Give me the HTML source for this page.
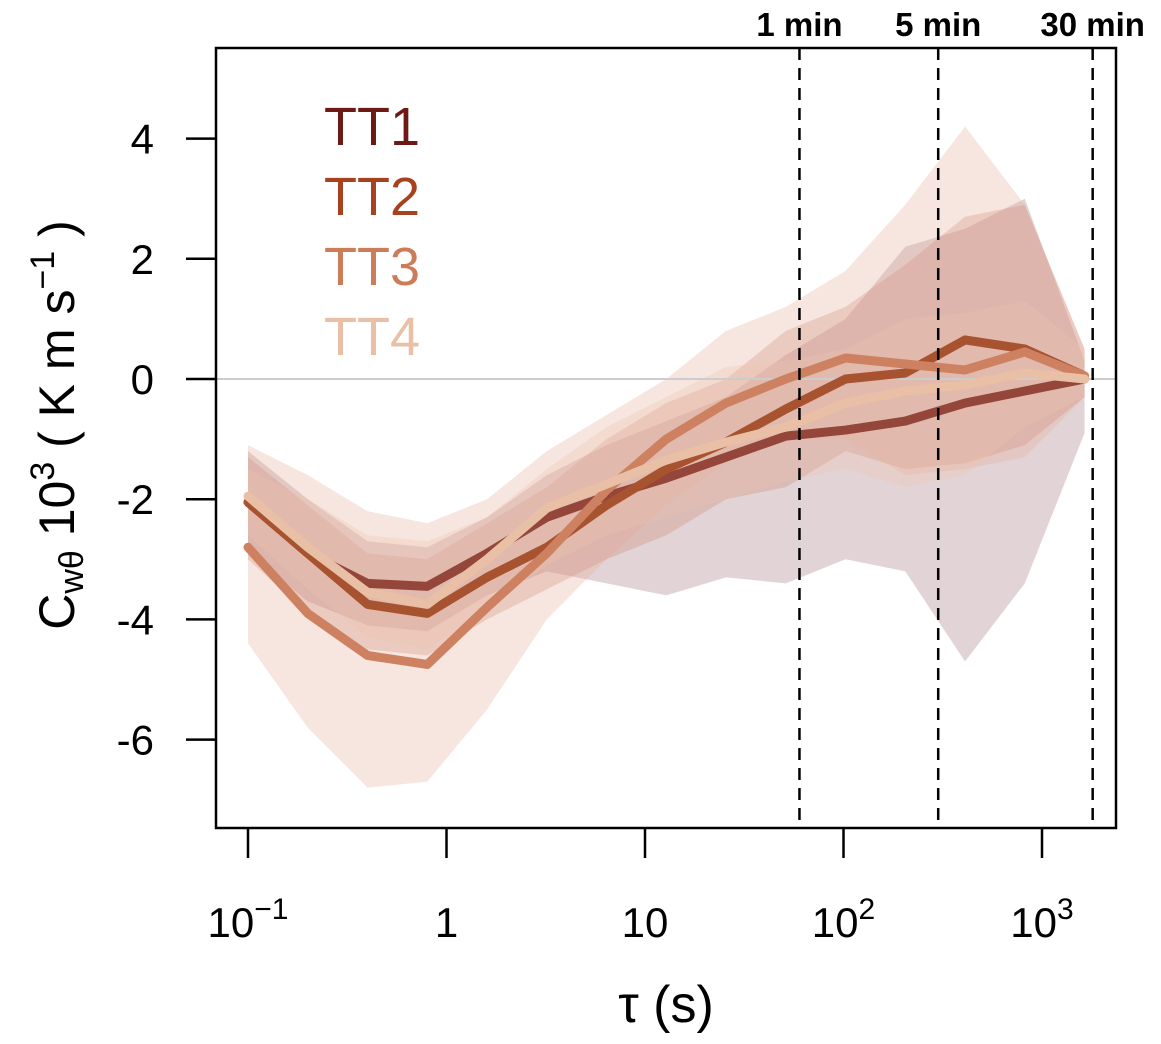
<!DOCTYPE html>
<html><head><meta charset="utf-8"><style>
body{margin:0;background:#fff}
svg text{font-family:"Liberation Sans",sans-serif}
</style></head><body>
<svg width="1161" height="1039" viewBox="0 0 1161 1039" id="chart"></svg>
<script>
const taus=[0.1,0.2,0.4,0.8,1.6,3.2,6.4,12.8,25.6,51.2,102.4,204.8,409.6,819.2,1638.4];
const tt1=[-2.05,-2.9,-3.4,-3.45,-2.9,-2.3,-1.95,-1.65,-1.3,-0.95,-0.85,-0.7,-0.4,-0.2,0.0];
const tt2=[-2.05,-2.9,-3.75,-3.9,-3.3,-2.8,-2.1,-1.5,-1.05,-0.5,0.0,0.1,0.65,0.5,0.05];
const tt3=[-2.8,-3.9,-4.6,-4.75,-3.8,-2.9,-1.85,-1.0,-0.4,0.0,0.35,0.25,0.15,0.45,0.05];
const tt4=[-1.95,-2.8,-3.55,-3.75,-3.0,-2.15,-1.75,-1.35,-1.05,-0.8,-0.4,-0.2,-0.1,0.1,0.0];
const up1=[-1.2,-2.0,-2.7,-2.8,-2.3,-1.6,-1.1,-0.7,-0.3,0.4,1.0,2.2,2.5,3.0,0.3];
const lo1=[-2.9,-3.7,-4.1,-4.2,-3.6,-3.2,-3.4,-3.6,-3.3,-3.4,-3.0,-3.2,-4.7,-3.4,-0.9];
const up2=[-1.3,-2.1,-2.9,-3.0,-2.4,-1.8,-1.0,-0.4,0,0.8,1.2,1.9,2.7,2.9,0.5];
const lo2=[-3.0,-3.9,-4.5,-4.6,-4.0,-3.5,-3.0,-2.6,-2.0,-1.8,-1.2,-1.5,-1.4,-1.1,-0.3];
const up3=[-1.1,-1.6,-2.2,-2.4,-2.0,-1.2,-0.6,0.0,0.8,1.2,1.8,2.9,4.2,2.9,0.5];
const lo3=[-4.4,-5.8,-6.8,-6.7,-5.5,-4.0,-3.0,-2.1,-1.4,-1.0,-1.0,-1.6,-1.5,-1.3,-0.3];
const up4=[-1.5,-2.0,-2.6,-2.7,-2.3,-1.5,-0.8,-0.3,0.2,0.3,0.5,1.0,1.1,1.3,0.5];
const lo4=[-2.6,-3.5,-4.3,-4.5,-3.8,-3.1,-2.6,-2.3,-2.0,-1.7,-1.5,-1.8,-1.6,-0.8,-0.3];
const yTicks=[-6,-4,-2,0,2,4];
const xTicks=[0.1,1,10,100,1000];
const markers=[60,300,1800];
const markerLabels=["1 min","5 min","30 min"];
const seriesNames=["TT1","TT2","TT3","TT4"];

const svg=document.getElementById('chart');
const NS='http://www.w3.org/2000/svg';
const X=v=>248+(Math.log10(v)+1)*198.5;
const Y=v=>379-v*60.1;
function mk(t,a,p){const e=document.createElementNS(NS,t);for(const k in a)e.setAttribute(k,a[k]);(p||svg).appendChild(e);return e;}
const bandCols=['rgba(190,160,165,0.45)','rgba(200,130,110,0.3)','rgba(230,170,150,0.3)','rgba(240,195,175,0.3)'];
const lineCols=['#94463A','#A8532F','#CD8160','#E9C0A6'];
const legendCols=['#6E1A14','#A8421E','#CD7C58','#E9C0A6'];
const bands=[[up1,lo1],[up2,lo2],[up3,lo3],[up4,lo4]];
const lines=[tt1,tt2,tt3,tt4];
bands.forEach((b,i)=>{
 let pts=taus.map((t,j)=>X(t)+','+Y(b[0][j]));
 pts=pts.concat(taus.map((t,j)=>X(t)+','+Y(b[1][j])).reverse());
 const p=mk('polygon',{points:pts.join(' '),fill:bandCols[i]});
 
 
});
const z=mk('line',{x1:216,x2:1116,y1:Y(0),y2:Y(0),stroke:'#ccc','stroke-width':2});

lines.forEach((l,i)=>{
 const p=mk('polyline',{points:taus.map((t,j)=>X(t)+','+Y(l[j])).join(' '),fill:'none',stroke:lineCols[i],'stroke-width':9,'stroke-linejoin':'round','stroke-linecap':'round'});
 
 
});
markers.forEach((m,i)=>{
 const l=mk('line',{x1:X(m),x2:X(m),y1:48,y2:828,stroke:'#000','stroke-width':2.5,'stroke-dasharray':'12,8'});
 
 const t=mk('text',{x:X(m),y:36,'text-anchor':'middle','font-size':33,'font-weight':'bold'});
 t.textContent=markerLabels[i];
 
});
const box=mk('rect',{x:216,y:48,width:900,height:780,fill:'none',stroke:'#000','stroke-width':2.5});

yTicks.forEach(v=>{
 mk('line',{x1:186,x2:216,y1:Y(v),y2:Y(v),stroke:'#000','stroke-width':2.5});
 const t=mk('text',{x:154,y:Y(v)+15,'text-anchor':'end','font-size':42});
 t.textContent=v;
 
});
xTicks.forEach(v=>{
 mk('line',{x1:X(v),x2:X(v),y1:828,y2:858,stroke:'#000','stroke-width':2.5});
 const t=mk('text',{x:X(v),y:937,'text-anchor':'middle','font-size':42});
 if(v===0.1)t.innerHTML='10<tspan dy="-18" font-size="30">−1</tspan>';
 else if(v===100)t.innerHTML='10<tspan dy="-18" font-size="30">2</tspan>';
 else if(v===1000)t.innerHTML='10<tspan dy="-18" font-size="30">3</tspan>';
 else t.textContent=v;
 
});
const xt=mk('text',{x:666,y:1022,'text-anchor':'middle','font-size':52});
xt.textContent='τ (s)';

const yt=mk('text',{x:0,y:0,'text-anchor':'middle','font-size':50,transform:'translate(74,425) rotate(-90)'});
yt.innerHTML='C<tspan font-size="34" dy="9">wθ</tspan><tspan dy="-9"> 10</tspan><tspan font-size="34" dy="-20">3</tspan><tspan dy="20"> ( K m s</tspan><tspan font-size="34" dy="-20">−1</tspan><tspan dy="20"> )</tspan>';

seriesNames.forEach((n,i)=>{
 const t=mk('text',{x:324,y:145+i*70,'font-size':54,fill:legendCols[i]});
 t.textContent=n;
 
});
</script>
</body></html>
